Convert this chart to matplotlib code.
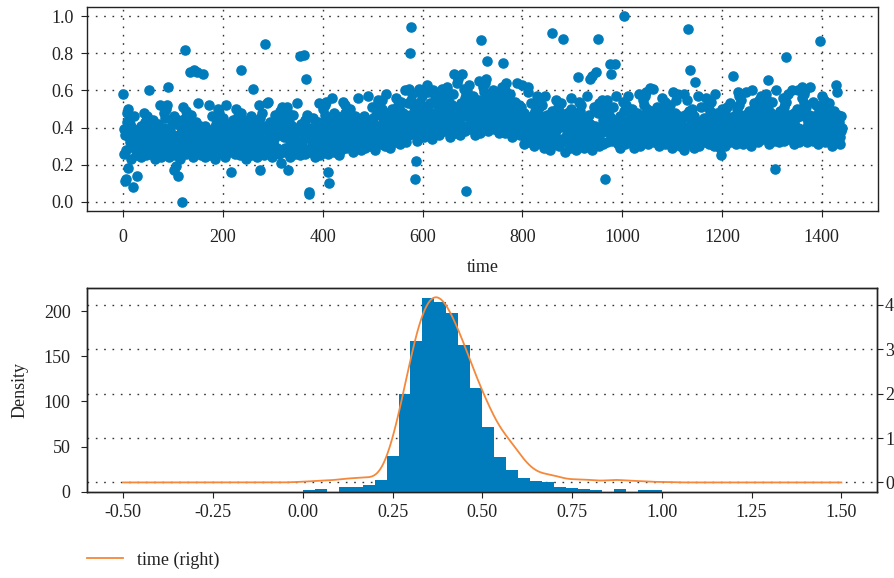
import numpy as np
import matplotlib
matplotlib.use("Agg")
import matplotlib.pyplot as plt
from matplotlib.ticker import FormatStrFormatter, MultipleLocator

# ---------------- data ----------------
# series "time": one value per time step, in hundredths (main band)
band_text = """
45 39 26 34 36 28 44 43 48 50 27 35 35 42 32 23 37 30 40 28 33 46 29 31 36 25 38 28 52 32 30 37 26 39 33 24 41 29 31 27
36 28 48 41 43 25 37 45 46 35 34 27 50 32 26 39 33 28 35 30 44 31 29 36 23 40 33 27 37 30 42 28 32 52 29 24 38 31 39 26
35 48 40 26 45 50 28 52 32 43 37 24 35 27 39 31 28 42 33 29 36 30 46 25 32 38 27 34 28 44 33 31 36 23 41 29 37 26 39 30
51 28 33 36 45 49 26 38 44 36 29 42 46 27 37 47 30 34 31 40 24 35 29 38 33 43 28 32 39 30 53 27 34 41 31 37 25 29 40 32
27 31 29 41 24 33 39 26 37 30 32 52 28 38 25 36 31 29 46 33 28 40 30 37 23 32 42 35 35 27 50 48 43 44 28 36 34 26 39 45
26 39 31 38 24 29 52 32 28 42 30 37 27 33 40 23 36 29 31 44 30 35 28 33 39 26 32 50 27 34 35 46 45 37 25 43 41 48 28 36
30 39 26 37 29 41 23 36 31 33 44 28 34 27 38 32 25 46 30 36 29 33 42 28 31 39 27 35 24 37 43 32 52 28 50 45 26 40 48 35
32 40 29 25 37 31 41 34 27 53 30 39 32 28 43 33 38 29 35 24 40 31 34 30 47 37 27 46 42 29 36 44 38 26 49 45 36 33 28 51
46 40 27 35 37 29 45 44 49 51 28 36 36 43 33 24 38 31 41 29 34 47 30 32 37 26 39 29 53 33 31 38 27 40 34 25 42 30 32 28
37 29 49 42 44 26 38 46 47 36 35 28 51 33 27 40 34 29 36 31 45 32 30 37 24 41 34 28 38 31 43 29 33 53 30 25 39 32 40 27
37 50 42 28 47 52 30 54 34 45 39 26 37 29 41 33 30 44 35 31 38 32 48 27 34 40 29 36 30 46 35 33 38 25 43 31 39 28 41 32
54 31 36 39 48 52 29 41 47 39 32 45 49 30 40 50 33 37 34 43 27 38 32 41 36 46 31 35 42 33 56 30 37 44 34 40 28 32 43 35
32 36 34 46 29 38 44 31 42 35 37 57 33 43 30 41 36 34 51 38 33 45 35 42 28 37 47 40 40 32 55 53 48 49 33 41 39 31 44 50
32 45 37 44 30 35 58 38 34 48 36 43 33 39 46 29 42 35 37 50 36 41 34 39 45 32 38 56 33 40 41 52 51 43 31 49 47 54 34 42
39 48 35 46 38 50 32 45 40 42 53 37 43 36 47 41 34 55 39 45 38 42 51 37 40 48 36 44 33 46 52 41 61 37 59 54 35 49 57 44
42 50 39 35 47 41 51 44 37 63 40 49 42 38 53 43 48 39 45 34 50 41 44 40 57 47 37 56 52 39 46 54 48 36 59 55 46 43 38 61
57 51 38 46 48 40 56 55 60 62 39 47 47 54 44 35 49 42 52 40 45 58 41 43 48 37 50 40 64 44 42 49 38 51 45 36 53 41 43 39
49 41 61 54 56 38 50 58 59 48 47 40 63 45 39 52 46 41 48 43 57 44 42 49 36 53 46 40 50 43 55 41 45 65 42 37 51 44 52 39
49 62 54 40 59 64 42 66 46 57 51 38 49 41 53 45 42 56 47 43 50 44 60 39 46 52 41 48 42 58 47 45 50 37 55 43 51 40 53 44
62 39 44 47 56 60 37 49 55 47 40 53 57 38 48 58 41 45 42 51 35 46 40 49 44 54 39 43 50 41 64 38 45 52 42 48 36 40 51 43
34 38 36 48 31 40 46 33 44 37 39 59 35 45 32 43 38 36 53 40 35 47 37 44 30 39 49 42 42 34 57 55 50 51 35 43 41 33 46 52
31 44 36 43 29 34 57 37 33 47 35 42 32 38 45 28 41 34 36 49 35 40 33 38 44 31 37 55 32 39 40 51 50 42 30 48 46 53 33 41
34 43 30 41 33 45 27 40 35 37 48 32 38 31 42 36 29 50 34 40 33 37 46 32 35 43 31 39 28 41 47 36 56 32 54 49 30 44 52 39
36 44 33 29 41 35 45 38 31 57 34 43 36 32 47 37 42 33 39 28 44 35 38 34 51 41 31 50 46 33 40 48 42 30 53 49 40 37 32 55
50 44 31 39 41 33 49 48 53 55 32 40 40 47 37 28 42 35 45 33 38 51 34 36 41 30 43 33 57 37 35 42 31 44 38 29 46 34 36 32
42 34 54 47 49 31 43 51 52 41 40 33 56 38 32 45 39 34 41 36 50 37 35 42 29 46 39 33 43 36 48 34 38 58 35 30 44 37 45 32
42 55 47 33 52 57 35 59 39 50 44 31 42 34 46 38 35 49 40 36 43 37 53 32 39 45 34 41 35 51 40 38 43 30 48 36 44 33 46 37
56 33 38 41 50 54 31 43 49 41 34 47 51 32 42 52 35 39 36 45 29 40 34 43 38 48 33 37 44 35 58 32 39 46 36 42 30 34 45 37
33 45 35 42 28 37 47 40 40 32 55 53 48 49 33 41 39 31 44 50 32 36 34 46 29 38 44 31 42 35 37 57 33 43 30 41 36 34 51 38
36 41 34 39 45 32 38 56 33 40 41 52 51 43 31 49 47 54 34 42 32 45 37 44 30 35 58 38 34 48 36 43 33 39 46 29 42 35 37 50
37 46 33 44 36 48 30 43 38 40 51 35 41 34 45 39 32 53 37 43 36 40 49 35 38 46 34 42 31 44 50 39 59 35 57 52 33 47 55 42
38 46 35 31 43 37 47 40 33 59 36 45 38 34 49 39 44 35 41 30 46 37 40 36 53 43 33 52 48 35 42 50 44 32 55 51 42 39 34 57
53 47 34 42 44 36 52 51 56 58 35 43 43 50 40 31 45 38 48 36 41 54 37 39 44 33 46 36 60 40 38 45 34 47 41 32 49 37 39 35
44 36 56 49 51 33 45 53 54 43 42 35 58 40 34 47 41 36 43 38 52 39 37 44 31 48 41 35 45 38 50 36 40 60 37 32 46 39 47 34
43 56 48 34 53 58 36 60 40 51 45 32 43 35 47 39 36 50 41 37 44 38 54 33 40 46 35 42 36 52 41 39 44 31 49 37 45 34 47 38
57 34 39 42 51 55 32 44 50 42 35 48 52 33 43 53 36 40 37 46 30 41 35 44 39 49 34 38 45 36 59 33 40 47 37 43 31 35 46 38
40
"""

# isolated points away from the main band (time step, value)
outlier_idx = [0, 3, 6, 10, 19, 28, 52, 89, 101, 105, 110, 118, 123, 134, 141, 147,
               160, 171, 215, 236, 260, 274, 284, 290, 317, 330, 354, 362, 367, 372,
               373, 410, 413, 419, 518, 565, 572, 575, 576, 579, 584, 586, 610, 620,
               663, 670, 678, 686, 716, 730, 762, 768, 800, 812, 860, 882, 898, 912,
               935, 940, 948, 952, 965, 975, 977, 985, 1003, 1012, 1055, 1062, 1101,
               1108, 1123, 1131, 1136, 1145, 1197, 1222, 1261, 1292, 1307, 1329, 1340,
               1360, 1377, 1397, 1428]
outlier_val = [0.58, 0.11, 0.12, 0.18, 0.08, 0.14, 0.60, 0.62, 0.17, 0.19, 0.14, 0.00,
               0.82, 0.70, 0.71, 0.70, 0.69, 0.52, 0.16, 0.71, 0.61, 0.17, 0.85, 0.54,
               0.21, 0.17, 0.785, 0.79, 0.66, 0.05, 0.04, 0.16, 0.10, 0.56, 0.55, 0.60,
               0.61, 0.80, 0.94, 0.58, 0.12, 0.22, 0.59, 0.60, 0.69, 0.66, 0.69, 0.06,
               0.87, 0.76, 0.75, 0.64, 0.63, 0.62, 0.91, 0.875, 0.56, 0.67, 0.66, 0.68,
               0.70, 0.88, 0.12, 0.745, 0.69, 0.74, 1.00, 0.57, 0.615, 0.61, 0.59, 0.55,
               0.58, 0.93, 0.71, 0.645, 0.25, 0.68, 0.605, 0.655, 0.175, 0.78, 0.60,
               0.62, 0.62, 0.865, 0.63]

# histogram counts (30 equal bins over the data range)
hist_counts = [2, 3, 0, 5, 5, 7, 13, 40, 108, 167, 215, 210, 198, 163, 115,
               72, 39, 24, 15, 12, 11, 5, 4, 3, 2, 0, 3, 0, 2, 2]

series_name = "time"
x_ticks_bottom = [-0.50, -0.25, 0.00, 0.25, 0.50, 0.75, 1.00, 1.25, 1.50]

# ---------------- build series ----------------
values = np.array([int(t) for t in band_text.split()], dtype=float) / 100.0
for i, v in zip(outlier_idx, outlier_val):
    if i < len(values):
        values[i] = v
time_idx = np.arange(len(values))

# KDE (gaussian, Scott's rule) on pandas' default evaluation range
vmin, vmax = values.min(), values.max()
rng = vmax - vmin
kde_x = np.linspace(vmin - 0.5 * rng, vmax + 0.5 * rng, 1000)
bw = values.std(ddof=1) * len(values) ** (-1.0 / 5.0)
kde_y = np.exp(-0.5 * ((kde_x[:, None] - values[None, :]) / bw) ** 2).sum(axis=1)
kde_y /= (len(values) * bw * np.sqrt(2 * np.pi))

edges = np.linspace(vmin, vmax, len(hist_counts) + 1)

# ---------------- style ----------------
plt.rcParams['font.family'] = ['Liberation Serif', 'DejaVu Serif']
plt.rcParams['font.size'] = 13
plt.rcParams['axes.unicode_minus'] = False
TXT = '#222222'
plt.rcParams['text.color'] = TXT
plt.rcParams['axes.labelcolor'] = TXT
plt.rcParams['xtick.color'] = TXT
plt.rcParams['ytick.color'] = TXT
plt.rcParams['axes.edgecolor'] = '#222222'
plt.rcParams['axes.linewidth'] = 1.0

BLUE = '#007bbb'
ORANGE = '#f5883a'
GRID = dict(color='#333333', linestyle=(0, (1.2, 4.8)), linewidth=1.0)

W, H = 895, 578
fig = plt.figure(figsize=(W / 100, H / 100), dpi=100)

# ---------------- top: scatter over time ----------------
ax1 = fig.add_axes([87.3 / W, 1 - 211 / H, 790.4 / W, 204 / H])
ax1.plot(time_idx, values, 'o', ms=6.6, color=BLUE, zorder=3)
ax1.set_xlabel(series_name, labelpad=9)
ax1.set_ylim(-0.05, 1.05)
ax1.yaxis.set_major_locator(MultipleLocator(0.2))
ax1.xaxis.set_major_locator(MultipleLocator(200))
ax1.grid(True, **GRID)
ax1.set_axisbelow(True)
ax1.tick_params(axis='x', direction='out', length=4, pad=9)
ax1.tick_params(axis='y', direction='out', length=4, pad=6)

# ---------------- bottom: histogram + KDE (right axis) ----------------
ax2 = fig.add_axes([87.3 / W, 1 - 491.7 / H, 790 / W, 203.7 / H])
ax3 = ax2.twinx()
ax3.set_zorder(ax2.get_zorder() - 1)
ax2.patch.set_visible(False)

ax2.stairs(hist_counts, edges, fill=True, color=BLUE, linewidth=0, zorder=2)
kde_line, = ax2.plot(kde_x, kde_y, color=ORANGE, lw=1.3, zorder=3,
                     transform=ax3.transData, label=f"{series_name} (right)")

xpad = 0.05 * (kde_x[-1] - kde_x[0])
ax2.set_xlim(kde_x[0] - xpad, kde_x[-1] + xpad)
ax2.set_ylim(0, max(hist_counts) * 1.05)
ax3.set_ylim(-0.05 * kde_y.max(), 1.05 * kde_y.max())
ax2.set_xticks(x_ticks_bottom)
ax2.xaxis.set_major_formatter(FormatStrFormatter('%.2f'))
ax2.yaxis.set_major_locator(MultipleLocator(50))
ax3.yaxis.set_major_locator(MultipleLocator(1))
ax2.set_ylabel('Density', labelpad=11)
ax3.grid(True, axis='y', **GRID)
ax2.grid(False)
ax2.tick_params(axis='x', direction='out', length=4, pad=5)
ax2.tick_params(axis='y', direction='out', length=4, pad=8)
ax3.tick_params(axis='y', direction='out', length=4, pad=1.5)

fig.legend([kde_line], [kde_line.get_label()], loc='center left',
           bbox_to_anchor=(87 / W, 1 - 560 / H), frameon=False,
           borderpad=0, borderaxespad=0, handlelength=2.0, handletextpad=0.75)

fig.savefig('out.png', dpi=100)
